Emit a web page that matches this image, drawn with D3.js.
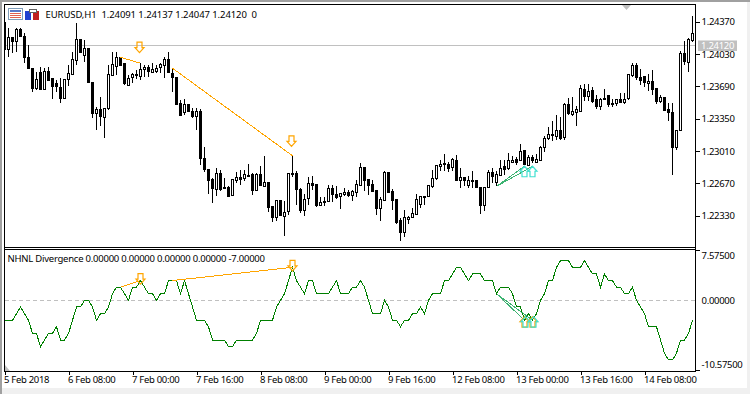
<!DOCTYPE html>
<html lang="en">
<head>
<meta charset="UTF-8">
<title>EURUSD H1 NHNL Divergence</title>
<script src="https://d3js.org/d3.v7.min.js"></script>
<style>
  body { margin: 0; padding: 0; background: #fff; }
  svg { display: block; }
  text { font-family: "Noto Sans", sans-serif; font-size: 9.5px; letter-spacing: -0.3px; fill: #000; }
  .crisp { shape-rendering: crispEdges; }
</style>
</head>
<body>
<svg id="chart" width="750" height="394"></svg>
<script>
// prices in points (1.24370 = 124370), one entry per H1 bar
const opens = [
  124360,124080,124202,124160,124290,124213,123996,123880,123660,123835,
  123660,123845,123775,123716,123681,123562,123758,123811,123961,124178,
  124021,124091,123730,123401,123443,123366,123450,123800,123905,123996,
  123926,123706,123776,123800,123800,123870,123891,123835,123846,123888,
  123908,123968,123828,123786,123513,123408,123503,123426,123373,123426,
  122936,122820,122708,122610,122778,122631,122631,122544,122701,122736,
  122722,122757,122761,122596,122761,122645,122684,122428,122313,122488,
  122330,122376,122778,122778,122610,122393,122512,122673,122656,122446,
  122470,122481,122621,122558,122526,122551,122575,122544,122575,122656,
  122841,122715,122663,122596,122404,122488,122785,122582,122498,122278,
  122148,122295,122316,122351,122449,122537,122533,122638,122722,122848,
  122880,122873,122838,122908,122701,122736,122645,122705,122705,122628,
  122439,122628,122785,122673,122761,122848,122831,122890,122918,122911,
  123013,122866,122946,122890,122918,123051,123142,123181,123163,123223,
  123146,123496,123391,123415,123433,123660,123583,123646,123548,123478,
  123566,123590,123506,123506,123548,123520,123555,123804,123905,123786,
  123793,123723,123741,123671,123531,123576,123450,123415,123048,123226,
  124031,123940,124171
];
const closes = [
  124080,124202,124160,124283,124213,123996,123880,123670,123758,123660,
  123845,123751,123695,123681,123562,123765,123821,123968,124178,124038,
  124091,123730,123401,123443,123366,123461,123811,123916,123996,123916,
  123716,123776,123811,123811,123870,123891,123846,123863,123881,123916,
  123968,123828,123783,123506,123391,123496,123426,123373,123426,122936,
  122820,122701,122610,122778,122610,122617,122540,122708,122736,122718,
  122761,122750,122596,122761,122645,122684,122418,122313,122488,122330,
  122368,122771,122764,122610,122393,122505,122673,122649,122435,122474,
  122484,122621,122561,122523,122561,122575,122540,122586,122663,122841,
  122708,122652,122586,122404,122498,122785,122575,122488,122253,122148,
  122306,122316,122358,122505,122537,122526,122645,122726,122855,122873,
  122869,122827,122918,122701,122736,122701,122698,122691,122628,122439,
  122631,122785,122743,122761,122831,122820,122911,122911,122890,123006,
  122866,122946,122911,122925,123051,123146,123181,123170,123223,123139,
  123496,123398,123426,123443,123671,123583,123636,123531,123471,123555,
  123555,123496,123496,123548,123520,123555,123811,123905,123776,123758,
  123730,123741,123660,123531,123576,123436,123415,123048,123226,124038,
  123951,124185,124248
];
const highs = [
  124370,124300,124202,124300,124300,124248,124125,123880,123845,123898,
  123880,123898,123775,123758,123775,123765,123916,124056,124353,124178,
  124178,124091,123730,123478,123583,123461,123916,124056,124056,123996,
  123926,123811,123828,123863,123933,123916,123916,123933,123916,123933,
  124003,124056,123881,123786,123548,123555,123503,123461,123461,123450,
  123051,122820,122726,122831,122813,122726,122645,122715,122785,122813,
  122813,122876,122778,122778,122848,122960,122684,122428,122498,122488,
  122481,122778,122960,122803,122621,122561,122736,122743,122656,122526,
  122526,122656,122649,122645,122568,122621,122596,122603,122708,122883,
  122841,122715,122708,122596,122526,122796,122785,122610,122498,122306,
  122386,122330,122411,122561,122540,122537,122656,122813,122866,122918,
  122981,122890,122936,122971,122831,122736,122743,122803,122705,122628,
  122631,122813,122831,122796,122918,122911,122988,122960,122946,123086,
  123016,122971,122971,122974,123065,123170,123261,123331,123391,123373,
  123520,123566,123573,123485,123706,123716,123716,123681,123601,123566,
  123664,123601,123555,123555,123618,123625,123811,123940,123933,123870,
  123800,123821,123863,123671,123601,123583,123513,123513,123233,124066,
  124171,124203,124430
];
const lows = [
  124073,123996,124045,124055,124210,123933,123880,123635,123653,123660,
  123660,123751,123555,123636,123513,123562,123695,123811,123916,124038,
  123951,123723,123356,123226,123268,123146,123443,123800,123811,123916,
  123706,123695,123723,123765,123758,123793,123786,123835,123835,123828,
  123776,123828,123636,123496,123391,123391,123418,123356,123233,122858,
  122785,122561,122463,122540,122586,122610,122523,122544,122673,122656,
  122691,122736,122551,122586,122638,122638,122365,122260,122271,122323,
  122120,122341,122736,122446,122358,122330,122446,122603,122421,122428,
  122435,122470,122470,122508,122404,122533,122526,122481,122526,122645,
  122593,122551,122575,122334,122278,122481,122568,122393,122246,122061,
  122106,122246,122306,122341,122411,122446,122526,122621,122708,122796,
  122803,122785,122796,122701,122621,122638,122621,122621,122621,122351,
  122376,122621,122673,122638,122743,122761,122813,122883,122866,122901,
  122858,122858,122883,122890,122911,122995,123121,123118,123128,123121,
  123121,123391,123380,123268,123426,123531,123531,123520,123450,123443,
  123548,123471,123478,123485,123513,123506,123548,123786,123758,123706,
  123681,123646,123601,123506,123513,123426,123331,122761,123016,123216,
  123916,123846,124161
];
const nhnl = [
  -3,-3,-3,-2,-1,-2,-3,-5,-5,-7,
  -6,-5,-5,-4,-6,-6,-5,-3,-1,-1,
  0,0,-1,-3,-2,-2,-1,1,2,2,
  1,0,2,2,3,2,1,1,0,1,
  1,3,3,3,1,3,1,-1,-3,-3,
  -3,-4,-6,-6,-6,-6,-7,-7,-6,-6,
  -6,-6,-6,-5,-3,-3,-3,-3,-1,0,
  1,3,5,3,2,1,3,3,1,1,
  1,1,2,3,1,1,1,2,2,3,
  2,0,-2,-2,-2,0,-1,-3,-3,-4,
  -3,-3,-2,-2,-1,-2,0,1,1,1,
  3,3,4,5,5,4,3,4,4,4,
  3,3,3,1,2,2,2,1,-1,-1,
  -3,-2,-3,-2,0,1,3,3,5,6,
  6,6,5,5,5,6,5,4,4,2,
  4,3,3,2,2,1,1,2,0,-1,
  -2,-4,-4,-4,-6,-8,-9,-9,-8,-6,
  -6,-5,-3
];

const priceTicks = [124370,124030,123690,123350,123010,122670,122330];
const lastClose = 124120;
const nhnlTicks = [7.575,0,-10.575];
const timeBars = [0,16,32,48,64,80,96,112,128,144,160];
const timeLabels = ["5 Feb 2018","6 Feb 08:00","7 Feb 00:00","7 Feb 16:00","8 Feb 08:00","9 Feb 00:00","9 Feb 16:00","12 Feb 08:00","13 Feb 00:00","13 Feb 16:00","14 Feb 08:00"];

// divergence lines: [from bar, from value, to bar, to value]
const priceBearLines = [[29,123996,34,123933],[42,123881,72,122960]];
const priceBullLines = [[123,122638,130,122850],[123,122638,132,122850]];
const nhnlBearLines = [[29,2,34,3],[42,3,72,5]];
const nhnlBullLines = [[123,1,130,-3],[123,1,132,-3]];
// arrows: [bar, value at the tip]
const priceDownArrows = [[34,124045],[72,123058]];
const priceUpArrows = [[130,122850],[132,122850]];
const nhnlDownArrows = [[34,2.45],[72,4.45]];
const nhnlUpArrows = [[130,-2.45],[132,-2.45]];

const svg = d3.select("#chart");

const x = d3.scaleLinear().domain([0,172]).range([4.5,692.5]);
const y = d3.scaleLinear().domain([122330,124370]).range([215.7,21.7]);
const y2 = d3.scaleLinear().domain([-10.575,7.575]).range([370.3,250.3]);
const snap = v => Math.round(v - 0.5) + 0.5;

// window edges
svg.append("rect").attr("x",0).attr("y",388).attr("width",750).attr("height",6).attr("fill","#f0f0f0");
svg.append("rect").attr("x",747).attr("y",0).attr("width",3).attr("height",394).attr("fill","#f0f0f0");
svg.append("rect").attr("x",0).attr("y",0).attr("width",2).attr("height",394).attr("fill","#a0a0a0");
svg.append("rect").attr("x",0).attr("y",0).attr("width",750).attr("height",2).attr("fill","#a0a0a0");

const defs = svg.append("defs");
defs.append("clipPath").attr("id","mainClip").append("rect").attr("x",5).attr("y",5).attr("width",690).attr("height",242);
defs.append("clipPath").attr("id","subClip").append("rect").attr("x",5).attr("y",250).attr("width",690).attr("height",121);

const main = svg.append("g").attr("clip-path","url(#mainClip)");
const sub = svg.append("g").attr("clip-path","url(#subClip)");

// last price line
main.append("line").attr("class","crisp")
  .attr("x1",5).attr("x2",695).attr("y1",snap(y(lastClose)+0.5)).attr("y2",snap(y(lastClose)+0.5))
  .attr("stroke","#c0c0c0");

// candles
const bars = main.selectAll("g.bar").data(d3.range(opens.length)).join("g").attr("class","bar crisp");
bars.append("line")
  .attr("x1",i => x(i)).attr("x2",i => x(i))
  .attr("y1",i => Math.round(y(highs[i]))).attr("y2",i => Math.round(y(lows[i])))
  .attr("stroke","#000");
bars.append("rect")
  .attr("x",i => x(i)-1).attr("width",2)
  .attr("y",i => snap(y(Math.max(opens[i],closes[i]))))
  .attr("height",i => Math.max(1,Math.round(Math.abs(y(opens[i])-y(closes[i])))))
  .attr("fill",i => closes[i] >= opens[i] ? "#fff" : "#000")
  .attr("stroke","#000");

// zero level
sub.append("line").attr("class","crisp")
  .attr("x1",5).attr("x2",695).attr("y1",snap(y2(0))).attr("y2",snap(y2(0)))
  .attr("stroke","#c0c0c0").attr("stroke-dasharray","4,3");

// indicator line
sub.append("path").attr("class","crisp")
  .attr("d",d3.line().x((d,i) => x(i)).y(d => y2(d))(nhnl))
  .attr("fill","none").attr("stroke","#008000");

function drawLines(g, rows, yScale, color) {
  g.selectAll(null).data(rows).join("line").attr("class","crisp")
    .attr("x1",d => x(d[0])).attr("y1",d => yScale(d[1]))
    .attr("x2",d => x(d[2])).attr("y2",d => yScale(d[3]))
    .attr("stroke",color);
}
drawLines(main,priceBearLines,y,"#ffa500");
drawLines(main,priceBullLines,y,"#3cb371");
drawLines(sub,nhnlBearLines,y2,"#ffa500");
drawLines(sub,nhnlBullLines,y2,"#3cb371");

// hollow wingding style arrows, dir 1 = tip down, -1 = tip up
function arrowPath(cx, tip, dir) {
  const h = 10.5;
  const neck = tip - dir*5;
  const tail = tip - dir*h;
  return `M${cx},${tip}L${cx-4.5},${neck}H${cx-2.5}V${tail}H${cx+2.5}V${neck}H${cx+4.5}Z`;
}
function drawArrows(g, rows, yScale, dir, dx, color) {
  g.selectAll(null).data(rows).join("path")
    .attr("d",d => arrowPath(Math.round(x(d[0]))+dx,yScale(d[1]),dir))
    .attr("fill","none").attr("stroke",color).attr("stroke-width",1.2);
}
drawArrows(main,priceDownArrows,y,1,-1.5,"#ffa500");
drawArrows(main,priceUpArrows,y,-1,-0.5,"#40e0d0");
drawArrows(sub,nhnlDownArrows,y2,1,-0.5,"#ffa500");
drawArrows(sub,nhnlUpArrows,y2,-1,-0.5,"#ffa500");
drawArrows(sub,nhnlUpArrows,y2,-1,0.5,"#40e0d0");

// chart shift and scale markers
svg.append("path").attr("d","M622,5H631L626.5,10Z").attr("fill","#c0c0c0");
svg.append("path").attr("d","M5,365L10,371H5Z").attr("fill","#c0c0c0");

// panel frames
const frame = svg.append("g").attr("class","crisp").attr("stroke","#000").attr("fill","none");
frame.append("path").attr("d","M4.5,371.5V4.5H695.5V371.5H4.5");
frame.append("path").attr("d","M4.5,247.5H695.5M4.5,249.5H695.5");

// axes
const priceAxis = svg.append("g").attr("transform","translate(695.5,0)")
  .call(d3.axisRight(y).tickValues(priceTicks).tickSize(4).tickPadding(2).tickFormat(d => (d/1e5).toFixed(5)));
priceAxis.select(".domain").remove();

const nhnlAxis = svg.append("g").attr("transform","translate(695.5,0)")
  .call(d3.axisRight(y2).tickValues(nhnlTicks).tickSize(4).tickPadding(2).tickFormat(d => d.toFixed(5)));
nhnlAxis.select(".domain").remove();
nhnlAxis.selectAll(".tick").filter(d => d === 0).select("line").remove();
nhnlAxis.selectAll(".tick text").attr("dy",d => d > 0 ? "0.82em" : d < 0 ? "-0.28em" : "0.32em");

const timeAxis = svg.append("g").attr("transform","translate(0,371.5)")
  .call(d3.axisBottom(x).tickValues(timeBars).tickSize(3).tickPadding(2).tickFormat((d,i) => timeLabels[i]));
timeAxis.select(".domain").remove();
timeAxis.selectAll(".tick text").attr("text-anchor","start").attr("x",-1);

svg.selectAll(".tick line").attr("class","crisp").attr("stroke","#000");
svg.selectAll(".tick text").style("font-family",null).style("font-size",null).attr("fill","#000");

// last price label
svg.append("rect").attr("x",698).attr("y",y(lastClose)-5).attr("width",39).attr("height",10.5).attr("fill","#c0c0c0");
svg.append("text").attr("x",701).attr("y",y(lastClose)+0.3).attr("dy","0.32em")
  .style("fill","#fff").text((lastClose/1e5).toFixed(5));

// headers, stretched to the width they take in the terminal font
svg.append("text").attr("x",45.5).attr("y",17.7).attr("xml:space","preserve")
  .attr("textLength",211.5).attr("lengthAdjust","spacing").style("letter-spacing","0")
  .text("EURUSD,H1  1.24091 1.24137 1.24047 1.24120  0");
svg.append("text").attr("x",7.5).attr("y",262)
  .attr("textLength",257.5).attr("lengthAdjust","spacing").style("letter-spacing","0")
  .text("NHNL Divergence 0.00000 0.00000 0.00000 0.00000 -7.00000");

// toolbar icons
const icons = svg.append("g").attr("class","crisp");
icons.append("rect").attr("x",8.5).attr("y",8.5).attr("width",14).attr("height",11).attr("fill","#fff").attr("stroke","#7f9db9");
icons.append("rect").attr("x",10).attr("y",10).attr("width",11).attr("height",2).attr("fill","#5a78c8");
d3.range(3).forEach(r => icons.append("rect").attr("x",10).attr("y",13+r*2).attr("width",11).attr("height",1).attr("fill","#e06050"));
icons.append("rect").attr("x",25).attr("y",11).attr("width",6).attr("height",9).attr("fill","#2040d0");
icons.append("rect").attr("x",33).attr("y",11).attr("width",6).attr("height",9).attr("fill","#c02020");
icons.append("rect").attr("x",29).attr("y",9).attr("width",7).attr("height",3).attr("fill","#fff").attr("stroke","#606060");
</script>
</body>
</html>
